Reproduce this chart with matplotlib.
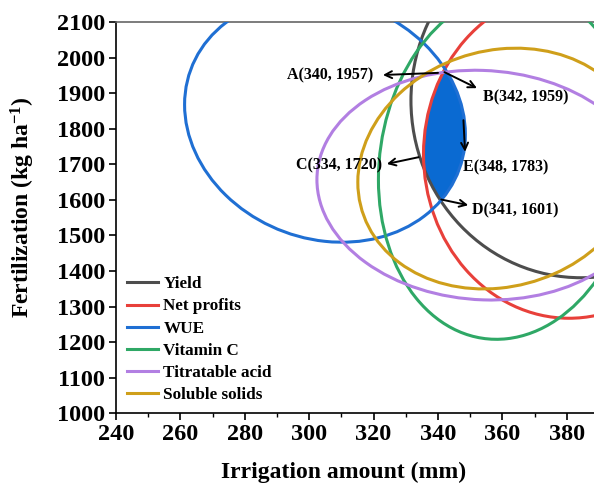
import numpy as np
import matplotlib
matplotlib.use('Agg')
import matplotlib.pyplot as plt
from matplotlib.patches import Circle
from matplotlib.transforms import Affine2D
from matplotlib.ticker import MultipleLocator

plt.rcParams['font.family'] = ['Liberation Serif', 'DejaVu Serif']
plt.rcParams['font.weight'] = 'bold'
plt.rcParams['mathtext.fontset'] = 'custom'
plt.rcParams['mathtext.rm'] = 'Liberation Serif:bold'
plt.rcParams['mathtext.default'] = 'rm'

# response-surface ellipses: centre, half extents in x / y, and tilt (rho)
curves = ['Yield', 'Net profits', 'WUE', 'Vitamin C', 'Titratable acid', 'Soluble solids']
cx = [384.5, 380.5, 304.9, 361.5, 354.0, 359.2]
cy = [1880.4, 1726.2, 1826.0, 1698.2, 1641.4, 1688.0]
rx = [52.9, 45.0, 43.6, 40.0, 51.6, 44.1]
ry = [499.3, 459.0, 345.1, 490.2, 322.9, 338.4]
rho = [0.002, -0.005, -0.121, 0.084, -0.048, 0.113]
colors = ['#4d4d4d', '#e8403a', '#1f6fd3', '#2fa866', '#b27fe2', '#cf9f1a']

# labelled points
pt_names = ['A', 'B', 'C', 'D', 'E']
pt_x = [340, 342, 334, 341, 348]
pt_y = [1957, 1959, 1720, 1601, 1783]

fig = plt.figure(figsize=(5.94, 4.87), dpi=100)
ax = fig.add_axes([116/594, (487-413.3)/487, 483/594, 391.3/487])

paths = []
for i in range(len(curves)):
    s = np.sqrt(1 - rho[i]**2)
    aff = Affine2D(np.array([[rx[i], 0, cx[i]], [rho[i]*ry[i], ry[i]*s, cy[i]], [0, 0, 1]]))
    circ = Circle((0, 0), 1, fill=False, ec=colors[i], lw=2.2, zorder=3,
                  transform=aff + ax.transData)
    ax.add_patch(circ)
    ax.plot([], [], color=colors[i], lw=2.2, label=curves[i])
    paths.append(aff.transform_path(circ.get_path()))

# region inside all six ellipses
gx, gy = np.meshgrid(np.linspace(320, 365, 700), np.linspace(1500, 2050, 700))
xy = np.column_stack([gx.ravel(), gy.ravel()])
inside = np.ones(len(xy), bool)
for p in paths:
    inside &= p.contains_points(xy)
ax.contourf(gx, gy, inside.reshape(gx.shape).astype(float), levels=[0.5, 1.5],
            colors=['#0a6ad2'], zorder=2)

# arrows and labels (layout positions)
heads = [(322.9, 1951), (352.1, 1914), (324.1, 1701), (349.4, 1585), (348.4, 1735)]
tails = [(pt_x[0], pt_y[0]), (pt_x[1], pt_y[1]), (pt_x[2], pt_y[2]), (pt_x[3], pt_y[3]), (347.9, 1824)]
text_pos = [(320.0, 1951, 'right'), (354.0, 1889, 'left'), (322.6, 1696, 'right'),
            (350.5, 1571, 'left'), (347.8, 1692, 'left')]
for i in range(len(pt_names)):
    ax.annotate('', xy=heads[i], xytext=tails[i], zorder=5,
                arrowprops=dict(arrowstyle='->,head_length=0.5,head_width=0.25',
                                color='black', lw=1.4, shrinkA=0, shrinkB=0))
    tx, ty, ha = text_pos[i]
    ax.text(tx, ty, '%s(%d, %d)' % (pt_names[i], pt_x[i], pt_y[i]), ha=ha, va='center',
            fontsize=11.5, fontweight='bold', zorder=6)

ax.set_xlim(240, 390)
ax.set_ylim(1000, 2100)
ax.xaxis.set_major_locator(MultipleLocator(20))
ax.xaxis.set_minor_locator(MultipleLocator(10))
ax.yaxis.set_major_locator(MultipleLocator(100))
ax.tick_params(axis='both', which='major', direction='out', length=5, width=1.2,
               labelsize=17.5, pad=3)
ax.tick_params(axis='x', which='minor', direction='out', length=3, width=1.0)
for lab in ax.get_xticklabels() + ax.get_yticklabels():
    lab.set_fontweight('bold')
for side in ['left', 'bottom']:
    ax.spines[side].set_linewidth(1.2)
ax.spines['top'].set_color('#666666')
ax.spines['top'].set_linewidth(1.2)

ax.set_xlabel('Irrigation amount (mm)', fontsize=17, fontweight='bold')
ax.set_ylabel('Fertilization (kg ha$^{-1}$)', fontsize=17, fontweight='bold')
ax.xaxis.set_label_coords(0.472, -0.124)
ax.yaxis.set_label_coords(-0.164, 0.527)

ax.legend(loc='upper left', bbox_to_anchor=(0.022, 0.35), frameon=False,
          prop={'size': 12.3, 'weight': 'bold'}, handlelength=1.85, handletextpad=0.3,
          labelspacing=0.36, borderpad=0, borderaxespad=0)

fig.savefig('out.png', dpi=100)
